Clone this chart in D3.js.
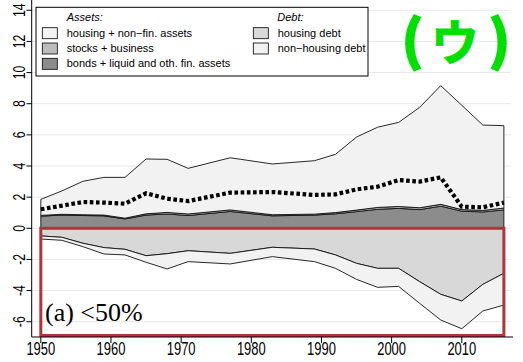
<!DOCTYPE html>
<html>
<head>
<meta charset="utf-8">
<script src="https://cdn.jsdelivr.net/npm/d3@7/dist/d3.min.js"></script>
<style>
  html, body { margin: 0; padding: 0; background: #fff; }
  svg { display: block; }
</style>
</head>
<body>
<svg id="chart" width="523" height="362"></svg>
<script>
// ---- data ----
const years = [1950,1953,1956,1959,1962,1965,1968,1971,1977,1983,1989,1992,1995,1998,2001,2004,2007,2010,2013,2016];
const bondsLiquid   = [0.78,0.85,0.82,0.80,0.60,0.85,0.92,0.82,1.08,0.80,0.85,0.93,1.07,1.22,1.28,1.20,1.42,1.10,1.05,1.18];
const stocksBusiness= [0.05,0.05,0.05,0.05,0.05,0.08,0.10,0.10,0.10,0.07,0.06,0.08,0.10,0.12,0.12,0.12,0.12,0.10,0.10,0.12];
const housingNonFin = [1.03,1.50,2.15,2.42,2.62,3.52,3.41,2.93,3.35,3.26,3.43,3.74,4.69,5.15,5.40,6.45,7.62,6.70,5.48,5.29];
const housingDebt   = [-0.49,-0.58,-0.96,-1.24,-1.35,-1.76,-1.63,-1.44,-1.61,-1.22,-1.33,-1.71,-2.25,-2.57,-2.57,-3.43,-4.24,-4.67,-3.60,-2.89];
const nonHousingDebt= [-0.20,-0.19,-0.22,-0.41,-0.36,-0.42,-0.98,-0.70,-0.68,-0.60,-0.81,-0.86,-1.03,-1.22,-1.16,-1.39,-1.65,-1.78,-1.71,-2.04];
const netWorth      = [1.22,1.45,1.69,1.65,1.58,2.25,1.90,1.75,2.29,2.33,2.14,2.18,2.50,2.67,3.10,3.00,3.27,1.39,1.35,1.65];
const xTicks = [1950,1960,1970,1980,1990,2000,2010];
const yTicks = [-6,-4,-2,0,2,4,6,8,10,12,14];

const svg = d3.select("#chart");
const x = d3.scaleLinear().domain([1948.7, 2017.3]).range([31.7, 513]);
const y = d3.scaleLinear().domain([-6.98, 14.66]).range([337, 0]);

const keys = ["bonds","stocks","housing","hdebt","nhdebt"];
const colors = {bonds:"#8c8c8c", stocks:"#bcbcbc", housing:"#f2f2f2", hdebt:"#d8d8d8", nhdebt:"#f2f2f2"};
const table = years.map((yr,i)=>({year:yr, bonds:bondsLiquid[i], stocks:stocksBusiness[i], housing:housingNonFin[i], hdebt:housingDebt[i], nhdebt:nonHousingDebt[i]}));
const series = d3.stack().keys(keys).offset(d3.stackOffsetDiverging)(table);

// gridlines
svg.append("g").selectAll("line").data(yTicks).join("line")
  .attr("x1", 32).attr("x2", 511)
  .attr("y1", d=>y(d)).attr("y2", d=>y(d))
  .attr("stroke", "#e8e8e8").attr("stroke-width", 1);

// areas
const area = d3.area().x((d,i)=>x(years[i])).y0(d=>y(d[0])).y1(d=>y(d[1]));
svg.append("g").selectAll("path").data(series).join("path")
  .attr("d", area)
  .attr("fill", d=>colors[d.key])
  .attr("stroke", "#111").attr("stroke-width", 0.9).attr("stroke-linejoin","round");

// dotted line
svg.append("path")
  .attr("d", d3.line().x((d,i)=>x(years[i])).y(d=>y(d))(netWorth))
  .attr("fill","none").attr("stroke","#000").attr("stroke-width",4.2)
  .attr("stroke-dasharray","3.6,2.6");

// red rectangle
svg.append("rect")
  .attr("x", x(1950)).attr("y", y(0))
  .attr("width", x(2016)-x(1950)).attr("height", y(-6.98)-y(0)-1.5)
  .attr("fill","none").attr("stroke","#b5323a").attr("stroke-width",3);

// axes
const axisFont = "'Liberation Sans', Arial, sans-serif";
svg.append("line").attr("x1",31.7).attr("x2",31.7).attr("y1",0).attr("y2",337).attr("stroke","#000").attr("stroke-width",1);
svg.append("line").attr("x1",31.7).attr("x2",513).attr("y1",337).attr("y2",337).attr("stroke","#000").attr("stroke-width",1);

const yt = svg.append("g").selectAll("g").data(yTicks).join("g");
yt.append("line").attr("x1",26.5).attr("x2",31.7).attr("y1",d=>y(d)).attr("y2",d=>y(d)).attr("stroke","#000");
yt.append("text")
  .attr("transform", d=>`translate(24.5,${y(d)}) rotate(-90)`)
  .attr("text-anchor","middle")
  .attr("font-family", axisFont).attr("font-size", 16.5)
  .text(d=> d<0 ? "-" + Math.abs(d) : String(d));

const xt = svg.append("g").selectAll("g").data(xTicks).join("g");
xt.append("line").attr("x1",d=>x(d)).attr("x2",d=>x(d)).attr("y1",337).attr("y2",343).attr("stroke","#000");
xt.append("text")
  .attr("x", d=>x(d)).attr("y", 355)
  .attr("text-anchor","middle")
  .attr("font-family", axisFont).attr("font-size", 17.5)
  .text(d=>String(d));

// compress tick label widths (narrow font look)
svg.selectAll("text").each(function(){
  const len = this.getComputedTextLength();
  d3.select(this).attr("textLength", len*0.74).attr("lengthAdjust","spacingAndGlyphs");
});

// legend
const lg = svg.append("g");
lg.append("rect").attr("x",36).attr("y",7.3).attr("width",332).attr("height",68.7)
  .attr("fill","#fff").attr("stroke","#000").attr("stroke-width",1);
const legFont = "'Liberation Sans', Arial, sans-serif";
lg.append("text").attr("x",66.7).attr("y",21.3).attr("font-family",legFont).attr("font-size",11).attr("font-style","italic").text("Assets:");
lg.append("text").attr("x",277.3).attr("y",21.3).attr("font-family",legFont).attr("font-size",11).attr("font-style","italic").text("Debt:");
const legItems = [
  {x:42.3, row:0, c:colors.housing, t:"housing + non\u2212fin. assets"},
  {x:42.3, row:1, c:colors.stocks, t:"stocks + business"},
  {x:42.3, row:2, c:colors.bonds, t:"bonds + liquid and oth. fin. assets"},
  {x:253.3, row:0, c:colors.hdebt, t:"housing debt"},
  {x:253.3, row:1, c:colors.nhdebt, t:"non\u2212housing debt"}
];
legItems.forEach(it=>{
  lg.append("rect").attr("x",it.x).attr("y",27.7+it.row*15.3).attr("width",15).attr("height",11)
    .attr("fill",it.c).attr("stroke","#000").attr("stroke-width",0.8);
  lg.append("text").attr("x",it.x+24.4).attr("y",36.8+it.row*15.2).attr("font-family",legFont).attr("font-size",11).text(it.t);
});

// panel label
svg.append("text").attr("x",45).attr("y",321)
  .attr("font-family","'Liberation Serif','Times New Roman',serif").attr("font-size",26)
  .text("(a) <50%");

// green marker "(ウ)"
const green = "#00e000";
const cjk = "'Noto Sans CJK JP', sans-serif";
const gm = svg.append("g").attr("fill", green).attr("stroke", green).attr("font-family", cjk).attr("font-weight","bold");
gm.append("text").attr("x",422).attr("y",59).attr("text-anchor","end").attr("font-size",52).attr("stroke-width",3).text("(");
gm.append("text").attr("x",455).attr("y",60).attr("text-anchor","middle").attr("font-size",48).attr("stroke-width",1).text("ウ");
gm.append("text").attr("x",490).attr("y",59).attr("text-anchor","start").attr("font-size",52).attr("stroke-width",3).text(")");
</script>
</body>
</html>
